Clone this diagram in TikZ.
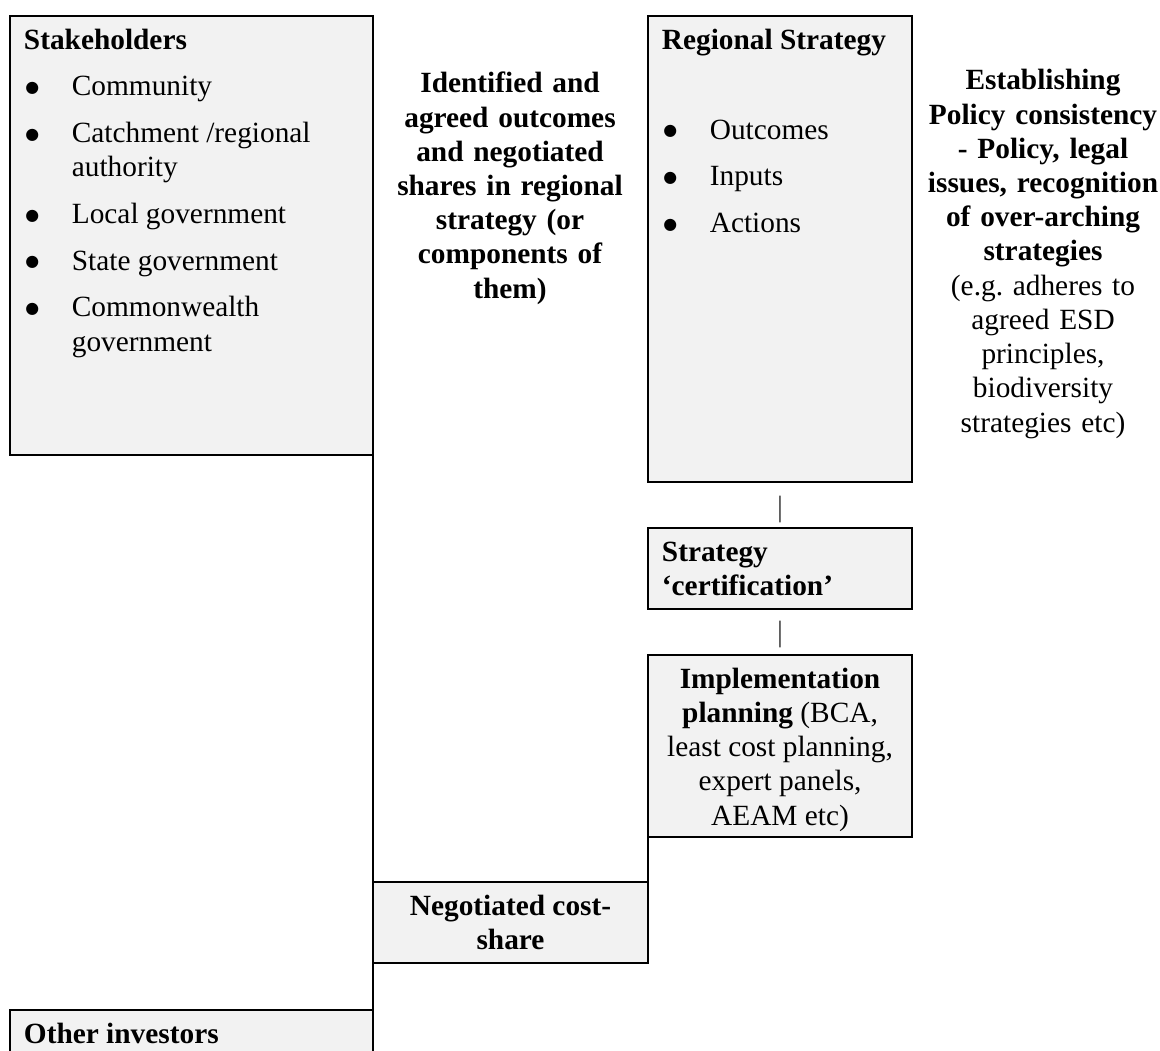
\documentclass[tikz,border=0pt]{standalone}
\usepackage{fontspec}
\setmainfont{Liberation Serif}
\newfontfamily\dejavu{DejaVu Sans}
\definecolor{boxgray}{HTML}{F2F2F2}
\newcommand{\boxtext}[3]{\begin{minipage}[t][#2][t]{#1}\raggedright\setlength{\parskip}{5.1pt}\strut #3\end{minipage}}
\newcommand{\bitem}[1]{\par\hangindent=19.6pt\hangafter=1\noindent\makebox[19.6pt][l]{\hspace{0.6pt}\raisebox{1.4pt}{\dejavu\fontsize{6.5}{7}\selectfont ●}}#1}

\begin{document}
\begin{tikzpicture}[x=0.409pt,y=-0.409pt,line width=0.7pt,font=\fontsize{12}{14}\selectfont]
  \tikzstyle{box}=[draw, fill=boxgray, anchor=north west, inner xsep=5.7pt, inner ysep=3.8pt, outer sep=0pt]
  \tikzstyle{note}=[anchor=north, align=center, inner sep=0pt]
  \tikzstyle{bar}=[inner sep=0pt, text=black!80]

  \useasboundingbox (0,0) rectangle (1160,1050);
  \clip (0,0) rectangle (1160,1050);

  \node[box] (stake) at (10,16) {\boxtext{137.1pt}{172pt}{\textbf{Stakeholders}
    \bitem{Community}
    \bitem{Catchment /regional authority}
    \bitem{Local government}
    \bitem{State government}
    \bitem{Commonwealth government}}};
  \node[box] (regstrat) at (648,16) {\boxtext{96.6pt}{183pt}{\textbf{Regional Strategy}\par\vspace{17.7pt}
    \bitem{Outcomes}
    \bitem{Inputs}
    \bitem{Actions}}};
  \node[box] (cert) at (648,528) {\boxtext{96.6pt}{25.5pt}{\textbf{Strategy\\`certification'}}};
  \node[box] (impl) at (648,655) {\boxtext{96.6pt}{66.8pt}{\centering\textbf{Implementation}\\\textbf{planning} (BCA,\\least cost planning,\\expert panels,\\AEAM etc)}};
  \node[box] (nego) at (373,882) {\boxtext{101.1pt}{25.5pt}{\centering\textbf{Negotiated cost-\\share}}};
  \node[box] (other) at (10,1010) {\boxtext{137.1pt}{40pt}{\textbf{Other investors}}};

  \node[note, text width=115pt] (shares) at (510,68) {\strut\textbf{Identified and\\agreed outcomes\\and negotiated\\shares in regional\\strategy (or\\components of\\them)}};
  \node[note, text width=96pt] (policy) at (1043,65) {\strut\textbf{Establishing\\Policy consistency\\- Policy, legal\\issues, recognition\\of over-arching\\strategies}\\(e.g.\ adheres to\\agreed ESD\\principles,\\biodiversity\\strategies etc)};

  \node[bar] (bar1) at (780,509) {|};
  \node[bar] (bar2) at (780,634) {|};

  \draw (stake.south east) -- (other.north east);
  \draw (impl.south west) -- (nego.north east);
\end{tikzpicture}
\end{document}
